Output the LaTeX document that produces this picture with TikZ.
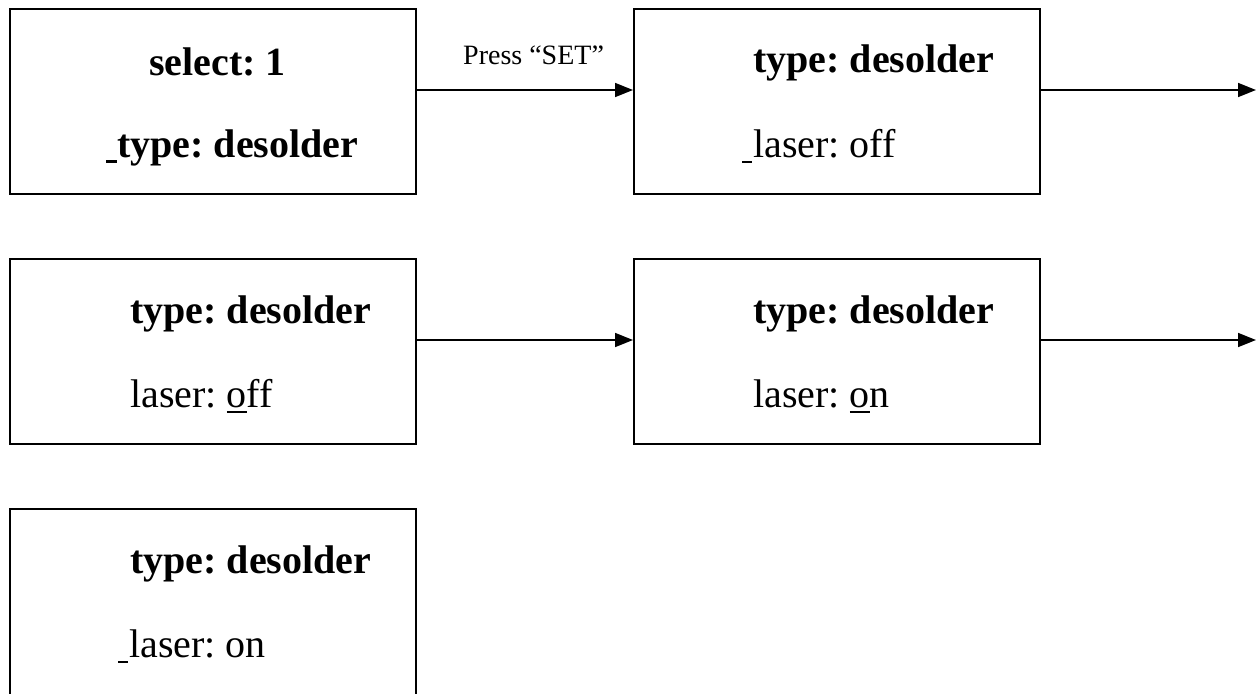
\documentclass[tikz,border=0pt]{standalone}
\usepackage{fontspec}
\setmainfont{Liberation Serif}
\usetikzlibrary{arrows.meta}
\frenchspacing
\tikzset{
  statebox/.style={draw, line width=1.8pt, minimum width=406pt, minimum height=185pt, anchor=north west, inner sep=0pt},
  big/.style={anchor=base west, inner sep=0pt, font=\fontsize{40}{48}\selectfont},
  bigb/.style={big, font=\fontsize{40}{48}\selectfont\bfseries},
  lbl/.style={anchor=base west, inner sep=0pt, font=\fontsize{28}{32}\selectfont},
  flow/.style={line width=1.6pt, -{Triangle[length=18pt,width=14pt]}}
}
% underlined blank (a space shown as underscore)
\newcommand{\ulblank}[2]{\rule[-6pt]{#1}{#2}}
% underlined character
\newcommand{\ulchar}[1]{\setbox0\hbox{#1}\rlap{\rule[-6pt]{\wd0}{2pt}}#1}
\begin{document}
\begin{tikzpicture}[x=1pt,y=-1pt]
\useasboundingbox (0,0) rectangle (1260,693);
% boxes
\node[statebox] (b1) at (9,8) {};
\node[statebox] (b2) at (633,8) {};
\node[statebox] (b3) at (9,258) {};
\node[statebox] (b4) at (633,258) {};
\node[statebox, minimum height=200pt] (b5) at (9,508) {};
% texts
\node[bigb] (t1a) at (149,75) {select: 1};
\node[bigb] (t1b) at (106,157) {\ulblank{11pt}{3pt}type: desolder};
\node[bigb] (t2a) at (753,73) {type: desolder};
\node[big] (t2b) at (742,157) {\ulblank{10pt}{2pt}\hspace{1pt}laser: off};
\node[bigb] (t3a) at (130,323) {type: desolder};
\node[big] (t3b) at (130,407) {laser: \ulchar{o}ff};
\node[bigb] (t4a) at (753,323) {type: desolder};
\node[big] (t4b) at (753,407) {laser: \ulchar{o}n};
\node[bigb] (t5a) at (130,573) {type: desolder};
\node[big] (t5b) at (118,657) {\ulblank{10pt}{2pt}\hspace{1pt}laser: on};
\node[lbl] (p) at (463,64) {Press “SET”};
% connectors
\coordinate (e1) at (1256,90);
\coordinate (e2) at (1256,340);
\draw[flow] (b1.east |- e1) -- (b2.west |- e1);
\draw[flow] (b2.east |- e1) -- (e1);
\draw[flow] (b3.east |- e2) -- (b4.west |- e2);
\draw[flow] (b4.east |- e2) -- (e2);
\end{tikzpicture}
\end{document}
